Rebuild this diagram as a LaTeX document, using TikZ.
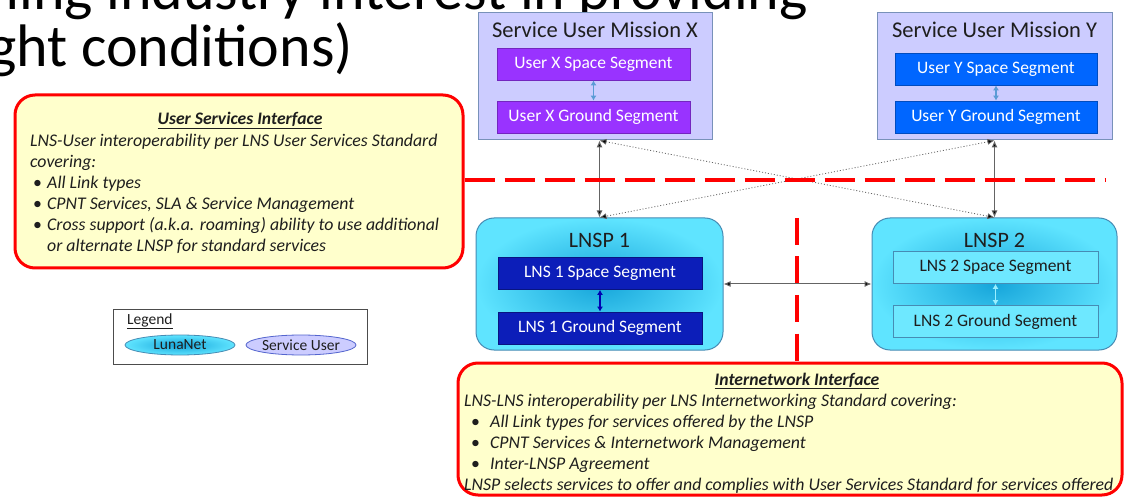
\documentclass[tikz,border=0pt]{standalone}
\usepackage{fontspec}
\setmainfont{Carlito}
\usetikzlibrary{arrows.meta,shapes.geometric}
\definecolor{lav}{RGB}{204,204,255}
\definecolor{misborder}{RGB}{120,145,185}
\definecolor{purp}{RGB}{153,51,255}
\definecolor{ublue}{RGB}{0,102,255}
\definecolor{lnsdark}{RGB}{12,30,185}
\definecolor{lnslight}{RGB}{110,232,255}
\definecolor{cyanout}{RGB}{95,228,255}
\definecolor{cyanin}{RGB}{22,165,218}
\definecolor{cyanborder}{RGB}{70,140,180}
\definecolor{ylw}{RGB}{255,255,204}
\definecolor{redl}{RGB}{255,0,0}
\definecolor{arrblue}{RGB}{91,155,213}
\definecolor{txt}{RGB}{30,30,30}
\definecolor{lineg}{RGB}{100,100,100}
\newcommand{\mybul}[1]{\makebox[#1][l]{\upshape\textbullet}}
\begin{document}
\begin{tikzpicture}[x=1pt,y=-1pt,
  bigtitle/.style={font=\fontsize{60}{60}\selectfont, text=black, inner sep=0pt},
  misbox/.style={draw=misborder, fill=lav, line width=1pt, inner sep=0pt},
  mistitle/.style={font=\fontsize{22.5}{26}\selectfont, text=txt, inner sep=0pt},
  segbox/.style={minimum height=32pt, inner sep=0pt, line width=0.8pt, font=\fontsize{17.5}{20}\selectfont},
  segX/.style={segbox, fill=purp, draw=purp!75!black, text=white, minimum width=193pt},
  segY/.style={segbox, fill=ublue, draw=ublue!75!black, text=white, minimum width=202pt},
  seg1/.style={segbox, fill=lnsdark, draw=lnsdark!70!black, text=white, minimum width=204pt},
  seg2/.style={segbox, fill=lnslight, draw=cyanborder, text=txt, minimum width=205pt},
  lnspbox/.style={draw=cyanborder, line width=1pt, rounded corners=18pt, inner color=cyanin, outer color=cyanout, minimum width=247pt, minimum height=132pt, inner sep=0pt},
  ifbox/.style={draw=redl, line width=3pt, fill=ylw, rounded corners=20pt, inner sep=0pt},
  bodytxt/.style={font=\fontsize{17.8}{21}\selectfont\itshape, text=txt, anchor=base west, inner sep=0pt},
  titletxt/.style={font=\fontsize{17.6}{21}\selectfont\bfseries\itshape, text=txt, anchor=base, inner sep=0pt},
  conn/.style={draw=lineg, line width=1pt, {Latex[length=7pt,width=6pt,fill=black]}-{Latex[length=7pt,width=6pt,fill=black]}},
  dotconn/.style={conn, dotted, line width=0.8pt},
  innerarr/.style={line width=1.3pt, {Latex[length=5pt,width=6pt]}-{Latex[length=5pt,width=6pt]}},
  reddash/.style={draw=redl, line width=3.8pt}
]
\useasboundingbox (0,0) rectangle (1128,497);
\fill[white] (0,0) rectangle (1128,497);
\begin{scope}
\clip (0,0) rectangle (1128,497);
\node[bigtitle, anchor=base east] (t1) at (808,10) {ning industry interest in providing};
\node[bigtitle, anchor=base east] (t2) at (353,67) {ght conditions)};
\node[bigtitle, font=\fontsize{50}{50}\selectfont, anchor=base west] (t3) at (-27,148) {e};
\end{scope}

% service user missions
\node[misbox, minimum width=234pt, minimum height=127pt] (mx) at (595,76.5) {};
\node[mistitle] (mxt) at (595,30) {Service User Mission X};
\node[segX] (xs) at (593.5,64) {User X Space Segment};
\node[segX] (xg) at (593.5,117) {User X Ground Segment};
\draw[innerarr, arrblue] (xs) -- (xg);

\node[misbox, minimum width=235pt, minimum height=127pt] (my) at (994.5,76.5) {};
\node[mistitle] (myt) at (994.5,30) {Service User Mission Y};
\node[segY] (ys) at (996,69) {User Y Space Segment};
\node[segY] (yg) at (996,117) {User Y Ground Segment};
\draw[innerarr, arrblue] (ys) -- (yg);

% LNSPs
\node[lnspbox] (l1) at (599.5,284) {};
\node[mistitle, font=\fontsize{22}{26}\selectfont] (l1t) at (599.5,240) {LNSP 1};
\node[seg1] (l1s) at (600,273.5) {LNS 1 Space Segment};
\node[seg1] (l1g) at (600,328) {LNS 1 Ground Segment};
\draw[innerarr, blue!70!black] (l1s) -- (l1g);

\node[lnspbox, minimum width=245pt] (l2) at (994.5,284) {};
\node[mistitle, font=\fontsize{22}{26}\selectfont] (l2t) at (994.5,240) {LNSP 2};
\node[seg2] (l2s) at (995.5,267.5) {LNS 2 Space Segment};
\node[seg2] (l2g) at (995.5,321.5) {LNS 2 Ground Segment};
\draw[innerarr, lnslight!70!white] (l2s) -- (l2g);

% connectors
\draw[conn] (mx.south -| l1.north) -- (l1.north);
\draw[conn] (my.south -| l2.north) -- (l2.north);
\draw[dotconn] (mx.south -| l1.north) -- (l2.north);
\draw[dotconn] (my.south -| l2.north) -- (l1.north);
\draw[conn] (l1.east) -- (l2.west);

% interface boxes
\node[ifbox, minimum width=448pt, minimum height=173pt] (usi) at (239,181.5) {};
\node[titletxt] (ut) at (240,125) {\underline{User Services Interface}};
\node[bodytxt] (u1) at (30,147) {LNS-User interoperability per LNS User Services Standard};
\node[bodytxt] (u2) at (30,168) {covering:};
\node[bodytxt] (u3) at (33,189) {\mybul{14pt}All Link types};
\node[bodytxt] (u4) at (33,210) {\mybul{14pt}CPNT Services, SLA \& Service Management};
\node[bodytxt] (u5) at (33,231) {\mybul{14pt}Cross support (a.k.a. roaming) ability to use additional};
\node[bodytxt] (u6) at (47,252) {or alternate LNSP for standard services};

\node[ifbox, minimum width=664pt, minimum height=132pt] (ini) at (790,429) {};
\node[titletxt] (it) at (797,385) {\underline{Internetwork Interface}};
\node[bodytxt] (i1) at (464,406) {LNS-LNS interoperability per LNS Internetworking Standard covering:};
\node[bodytxt] (i2) at (471,427) {\mybul{19pt}All Link types for services offered by the LNSP};
\node[bodytxt] (i3) at (471,448) {\mybul{19pt}CPNT Services \& Internetwork Management};
\node[bodytxt] (i4) at (471,469) {\mybul{19pt}Inter-LNSP Agreement};
\node[bodytxt] (i5) at (464,490) {LNSP selects services to offer and complies with User Services Standard for services offered};

% red dashed boundaries
\coordinate (hend) at (1105,180);
\coordinate (vtop) at (797,218);
\draw[reddash, dash pattern=on 30pt off 10pt] (usi.east |- hend) -- (hend);
\draw[reddash, dash pattern=on 27pt off 11.5pt] (vtop) -- (vtop |- ini.north);

% legend
\node[draw=black!70, line width=1pt, fill=white, minimum width=254pt, minimum height=55pt, inner sep=0pt] (leg) at (240,337) {};
\node[font=\fontsize{15.5}{18}\selectfont, text=txt, anchor=base west, inner sep=0pt] (legt) at (127,324) {\underline{Legend}};
\node[ellipse, draw=cyanborder, line width=0.8pt, inner color=cyanin, outer color=cyanout, minimum width=110pt, minimum height=20pt, inner sep=0pt, font=\fontsize{15.5}{18}\selectfont, text=txt] (leg1) at (180,345) {LunaNet};
\node[ellipse, draw=misborder!70!blue, line width=0.8pt, fill=lav, minimum width=108pt, minimum height=20pt, inner sep=0pt, font=\fontsize{15.5}{18}\selectfont, text=txt] (leg2) at (301,345) {Service User};
\end{tikzpicture}
\end{document}
